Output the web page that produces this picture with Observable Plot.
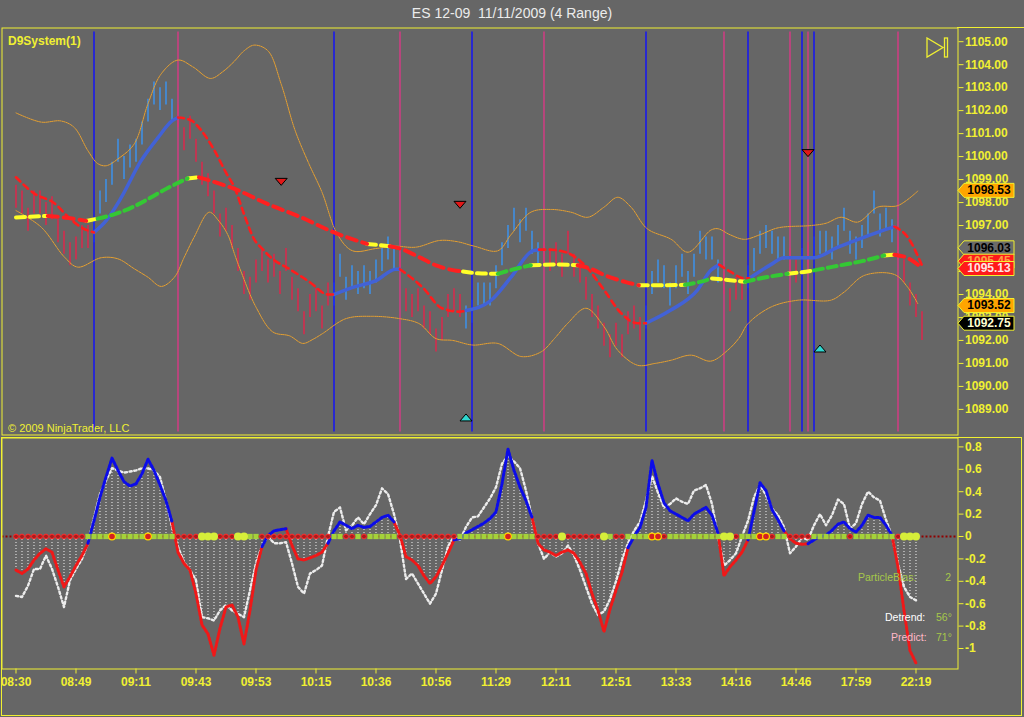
<!DOCTYPE html>
<html><head><meta charset="utf-8">
<script src="https://cdn.jsdelivr.net/npm/d3@7"></script>
<script src="https://cdn.jsdelivr.net/npm/@observablehq/plot@0.6"></script>
<style>
html,body{margin:0;padding:0;background:#666666;width:1024px;height:717px;overflow:hidden;}
#wrap{position:relative;width:1024px;height:717px;font-family:'Liberation Sans',Arial,sans-serif;}
#title{position:absolute;left:0;top:5px;width:1024px;text-align:center;color:#ececec;font-size:14px;white-space:pre;}
#top,#bot{position:absolute;left:0;}
#top{top:0;} #bot{top:436px;}
</style></head>
<body><div id="wrap">
<div id="title">ES 12-09  11/11/2009 (4 Range)</div>
<div id="top"></div><div id="bot"></div>
<div style="position:absolute;left:957px;top:27px;width:67px;height:1px;background:#f0f032"></div>
<div style="position:absolute;left:1px;top:437px;width:1021px;height:279px;border:1px solid #f0f032;box-sizing:border-box"></div>
<svg style="position:absolute;left:926px;top:37px" width="24" height="22"><polygon points="1,1 1,20 17,10.5" fill="none" stroke="#f0f032" stroke-width="1.3"/><rect x="18.5" y="1" width="3" height="19" fill="none" stroke="#f0f032" stroke-width="1.3"/></svg>
</div>
<script>
// ---------- price panel data ----------
const barHighs = [1098.75,1098.5,1097.75,1098.5,1098.5,1098.0,1098.25,1097.25,1096.75,1096.25,
1096.5,1097.0,1097.0,1097.25,1098.5,1099.0,1099.75,1100.75,1100.0,1100.5,
1100.75,1101.5,1102.5,1103.25,1103.0,1103.25,1102.5,1102.25,1101.25,1101.75,
1100.75,1099.75,1099.25,1098.5,1097.5,1097.75,1097.0,1096.0,1095.0,1094.75,
1095.5,1096.0,1095.5,1095.75,1095.0,1096.0,1094.75,1094.25,1093.25,1094.0,
1094.25,1093.5,1094.5,1094.5,1095.75,1094.75,1095.25,1095.0,1095.25,1095.0,
1095.5,1096.0,1096.5,1096.0,1096.0,1094.25,1094.0,1094.25,1093.5,1093.25,
1092.5,1093.0,1094.0,1094.25,1094.0,1093.5,1093.75,1094.5,1094.5,1094.5,
1095.25,1096.25,1097.0,1097.75,1097.25,1097.75,1096.75,1096.25,1096.25,1096.0,
1096.25,1095.75,1096.75,1095.75,1095.5,1094.75,1094.0,1093.5,1092.75,1092.25,
1092.75,1092.25,1093.25,1093.5,1093.0,1093.5,1095.0,1095.5,1095.25,1094.5,
1095.25,1095.75,1095.0,1095.75,1096.75,1096.5,1096.5,1095.5,1095.0,1094.25,
1094.75,1094.75,1095.25,1096.0,1096.75,1097.0,1096.75,1096.5,1096.5,1096.0,
1095.5,1096.0,1096.25,1096.5,1096.75,1096.75,1096.5,1097.0,1097.75,1096.75,
1096.5,1097.0,1097.5,1098.5,1097.5,1097.75,1097.25,1096.5,1095.5,1094.5,
1094.0,1093.25];
const barLows = [1097.75,1097.5,1096.75,1097.5,1097.5,1097.0,1097.25,1096.25,1095.75,1095.25,
1095.5,1096.0,1096.0,1096.25,1097.5,1098.0,1098.75,1099.75,1099.0,1099.5,
1099.75,1100.5,1101.5,1102.25,1102.0,1102.25,1101.5,1101.25,1100.25,1100.75,
1099.75,1098.75,1098.25,1097.5,1096.5,1096.75,1096.0,1095.0,1094.0,1093.75,
1094.5,1095.0,1094.5,1094.75,1094.0,1095.0,1093.75,1093.25,1092.25,1093.0,
1093.25,1092.5,1093.5,1093.5,1094.75,1093.75,1094.25,1094.0,1094.25,1094.0,
1094.5,1095.0,1095.5,1095.0,1095.0,1093.25,1093.0,1093.25,1092.5,1092.25,
1091.5,1092.0,1093.0,1093.25,1093.0,1092.5,1092.75,1093.5,1093.5,1093.5,
1094.25,1095.25,1096.0,1096.75,1096.25,1096.75,1095.75,1095.25,1095.25,1095.0,
1095.25,1094.75,1095.75,1094.75,1094.5,1093.75,1093.0,1092.5,1091.75,1091.25,
1091.75,1091.25,1092.25,1092.5,1092.0,1092.5,1094.0,1094.5,1094.25,1093.5,
1094.25,1094.75,1094.0,1094.75,1095.75,1095.5,1095.5,1094.5,1094.0,1093.25,
1093.75,1093.75,1094.25,1095.0,1095.75,1096.0,1095.75,1095.5,1095.5,1095.0,
1094.5,1095.0,1095.25,1095.5,1095.75,1095.75,1095.5,1096.0,1096.75,1095.75,
1095.5,1096.0,1096.5,1097.5,1096.5,1096.75,1096.25,1095.5,1094.5,1093.5,
1093.0,1092.0];
const barTrend = ("rrrrrrrrrrrrr" + "bbbbbbbbbbbbbb" + "rrrrrrrrrrrrrrrrrrrrrrrrrr" + "bbbbbbbbbbb" +
  "rrrrrrrrrrr" + "bbbbbbbbbbbbb" + "rrrrrrrrrrrrrrrrr" + "bbbbbbbbbbbbb" + "rrrr" + "bbbbbbb" +
  "rr" + "b" + "r" + "bbbbbbbbbbbbbb" + "rrrrr").split("");
const signalUpBars = [13, 53, 76, 105, 122, 131, 133];
const signalDownBars = [27, 64, 88, 118, 129, 132, 147];
const upperBand = [[0,1101.9],[4.2,1101.5],[7.5,1101.55],[9.7,1101.27],[12,1100.25],[13.6,1099.7],[15,1099.6],[17,1099.9],
[19.7,1100.55],[22,1102.3],[24.2,1103.6],[27,1104.2],[29.5,1103.9],[32.4,1103.4],[34.5,1103.7],[36.4,1104.15],[38,1104.6],
[39.7,1104.85],[42,1104.6],[44.2,1103.15],[46.5,1101.15],[48.8,1099.7],[51,1098.45],[53.6,1096.6],[56.1,1095.9],[60,1096.0],
[63,1096.1],[66.7,1096.06],[70.6,1096.35],[73.5,1096.3],[76.4,1096.1],[80.3,1095.9],[82.5,1096.6],[85.8,1097.58],[89.2,1097.7],
[92.5,1097.58],[95.3,1097.36],[98,1097.8],[100.3,1098.23],[102.5,1097.8],[105.2,1096.86],[109.2,1096.4],[112,1095.84],
[115.8,1096.8],[117,1096.86],[119,1096.6],[121.4,1096.4],[124,1096.6],[127,1096.9],[132.5,1097.0],[135,1097.1],[137.5,1097.36],
[140.3,1097.15],[143.6,1097.8],[147,1097.87],[150.3,1098.5]];
const lowerBand = [[0,1097.65],[4.2,1096.93],[8.1,1095.62],[10.3,1095.19],[14.2,1095.6],[17,1095.55],[19.7,1095.12],[22,1094.75],
[24.2,1094.35],[26.4,1094.75],[28,1095.6],[29.7,1096.5],[32.2,1097.58],[33.8,1097.2],[35.3,1096.6],[36.5,1095.7],[37.5,1095.0],
[40,1093.45],[42.8,1092.37],[45.6,1092.2],[47.8,1091.87],[49.5,1092.05],[51.1,1092.3],[55,1092.95],[59.4,1093.05],[63.9,1092.95],
[67.2,1092.73],[70,1092.08],[72.8,1092.0],[76.1,1091.8],[80.3,1091.87],[84.2,1091.3],[87.5,1091.5],[89.8,1092.1],[91.9,1092.73],
[95,1093.4],[98,1092.6],[100.3,1091.57],[103.6,1090.92],[106.5,1091.0],[109.2,1091.14],[112.5,1091.36],[115.8,1091.1],
[118.6,1091.57],[120.5,1092.1],[122,1092.73],[125.8,1093.45],[130.3,1093.75],[135.8,1093.75],[138,1094.1],[141.4,1094.83],
[146.4,1094.87],[148.6,1094.32],[150.3,1093.6]];
// [bar, price, state of the segment that starts here]  d = down (red), u = up (blue)
const fastKnots = [[0,1099.1,"d"],[3,1098.4,"d"],[6.5,1097.95,"d"],[8.6,1097.4,"d"],[11,1096.9,"d"],[13,1096.7,"u"],
[15,1097.2,"u"],[17.5,1098.2,"u"],[20.8,1099.8,"u"],[23.6,1100.8,"u"],[26,1101.55,"u"],[27,1101.7,"d"],[29,1101.6,"d"],
[31,1101.1,"d"],[33,1100.3,"d"],[35,1099.3,"d"],[36.5,1098.6,"d"],[38,1097.5,"d"],[39.7,1096.4,"d"],[41,1096.0,"d"],
[43,1095.5,"d"],[45.3,1095.15,"d"],[48.9,1094.55,"d"],[52,1094.0,"d"],[53,1094.0,"u"],[56,1094.3,"u"],[60,1094.6,"u"],
[63.3,1095.1,"u"],[64,1095.1,"d"],[67.8,1094.3,"d"],[71,1093.4,"d"],[74,1093.25,"d"],[75,1093.3,"u"],[79.2,1093.75,"u"],
[82.5,1094.75,"u"],[86.1,1095.9,"u"],[87.2,1095.95,"d"],[89,1095.95,"d"],[92,1095.8,"d"],[94.7,1095.3,"d"],[98,1094.2,"d"],
[100.8,1093.2,"d"],[103.6,1092.75,"d"],[105,1092.75,"u"],[109,1093.3,"u"],[113.6,1094.2,"u"],[115.8,1095.05,"u"],
[117.2,1095.3,"d"],[119.2,1094.97,"d"],[121.4,1094.7,"d"],[122.2,1094.7,"u"],[125.8,1095.3,"u"],[128,1095.6,"u"],
[130.3,1095.6,"u"],[133,1095.6,"u"],[136.9,1096.05,"u"],[141.4,1096.5,"u"],[145.8,1096.9,"u"],[146.4,1096.95,"d"],
[148.6,1096.5,"d"],[151.1,1095.2,"d"]];
// y = flat, g = rising, r = falling
const slowKnots = [[0,1097.35,"y"],[5.3,1097.42,"r"],[8,1097.35,"r"],[11.7,1097.2,"y"],[13.6,1097.3,"g"],[17.4,1097.58,"g"],
[20.2,1097.9,"g"],[23,1098.3,"g"],[25.8,1098.7,"g"],[28.6,1099.05,"y"],[30.5,1099.1,"r"],[33.6,1098.85,"r"],[36.4,1098.6,"r"],
[41.9,1097.94,"r"],[47.5,1097.36,"r"],[53,1096.7,"r"],[58.5,1096.2,"y"],[62.3,1096.1,"r"],[64,1096.0,"r"],[67,1095.65,"r"],
[70,1095.27,"r"],[73,1095.05,"r"],[74.5,1095.0,"y"],[77,1094.92,"y"],[80.3,1094.9,"g"],[83,1095.1,"g"],[85.8,1095.27,"y"],
[90,1095.3,"y"],[93.6,1095.27,"r"],[96,1095.1,"r"],[98,1094.85,"r"],[101.5,1094.55,"r"],[103.8,1094.4,"y"],[107.5,1094.4,"y"],
[111.5,1094.42,"g"],[114,1094.55,"g"],[116,1094.7,"y"],[119,1094.62,"y"],[121.5,1094.55,"g"],[125,1094.75,"g"],
[128.6,1094.9,"y"],[131,1094.97,"y"],[133,1095.05,"g"],[137,1095.25,"g"],[141,1095.45,"g"],[144.7,1095.7,"y"],
[146.4,1095.73,"r"],[148.5,1095.6,"r"],[151,1095.15,"r"]];
const sellMarks = [[44.2,1098.9],[74,1097.9],[132,1100.15]];
const buyMarks = [[75,1088.65],[134,1091.65]];
const priceTags = [1098.53, 1096.03, 1095.45, 1095.13, 1093.52, 1092.75];
const priceTicks = [1089,1090,1091,1092,1093,1094,1095,1096,1097,1098,1099,1100,1101,1102,1103,1104,1105];

// ---------- oscillator panel data ----------
const oscValues = [-0.30,-0.33,-0.29,-0.21,-0.15,-0.11,-0.14,-0.30,-0.45,-0.36,
-0.26,-0.17,-0.06,0.14,0.35,0.53,0.70,0.59,0.49,0.45,
0.47,0.56,0.69,0.59,0.46,0.32,0.13,-0.14,-0.24,-0.30,
-0.51,-0.79,-0.87,-1.06,-0.82,-0.63,-0.61,-0.72,-0.96,-0.66,
-0.30,-0.09,0.01,0.05,0.06,0.07,-0.08,-0.20,-0.21,-0.19,
-0.17,-0.14,-0.06,0.05,0.13,0.10,0.07,0.10,0.08,0.09,
0.13,0.17,0.19,0.13,0.01,-0.18,-0.21,-0.26,-0.35,-0.42,
-0.36,-0.26,-0.15,-0.03,-0.02,0.03,0.06,0.09,0.12,0.16,
0.22,0.47,0.78,0.59,0.44,0.32,0.17,-0.06,-0.12,-0.14,
-0.17,-0.14,-0.12,-0.15,-0.23,-0.33,-0.51,-0.66,-0.85,-0.65,
-0.48,-0.32,-0.10,0.00,0.08,0.26,0.68,0.47,0.30,0.23,
0.20,0.17,0.14,0.20,0.23,0.26,0.19,0.03,-0.35,-0.27,
-0.21,-0.14,-0.03,0.22,0.48,0.41,0.24,0.15,0.05,-0.02,
-0.06,-0.07,-0.065,-0.03,0.00,0.01,0.055,0.11,0.13,0.07,
0.04,0.10,0.19,0.17,0.17,0.10,0.01,-0.27,-0.66,-1.02,
-1.13];
const oscTrend = ("rrrrrrrrrrrrr" + "bbbbbbbbbbbbbb" + "rrrrrrrrrrrrrrr" + "bbbb" + "rrrrrrr" + "bbbbbbbbbbb" +
  "rrrrrrrrrr" + "bbbbbbbbbbbbb" + "rrrrrrrrrrrrrrrr" + "bbbbbbbbbbbbbbb" + "rrrrr" + "bbbbbb" + "rrrr" +
  "bbbbbbbbbbbbbb" + "rrrr").split("");
const detrendValues = [-0.53,-0.54,-0.44,-0.29,-0.29,-0.17,-0.29,-0.45,-0.63,-0.39,
-0.29,-0.20,-0.06,0.17,0.38,0.50,0.61,0.59,0.57,0.58,
0.59,0.61,0.61,0.59,0.53,0.32,0.085,-0.09,-0.23,-0.30,
-0.39,-0.72,-0.73,-0.75,-0.66,-0.61,-0.66,-0.69,-0.72,-0.48,
-0.24,-0.08,0.0,-0.06,-0.06,-0.05,-0.24,-0.45,-0.51,-0.33,
-0.30,-0.26,0.0,0.22,0.26,0.055,0.10,0.17,0.11,0.20,
0.28,0.43,0.38,0.20,-0.03,-0.38,-0.33,-0.42,-0.51,-0.60,
-0.51,-0.30,-0.09,0.0,-0.03,0.085,0.17,0.18,0.26,0.34,
0.44,0.65,0.72,0.67,0.61,0.41,0.17,-0.06,-0.20,-0.14,
-0.18,-0.15,-0.08,-0.17,-0.30,-0.45,-0.60,-0.70,-0.67,-0.56,
-0.40,-0.21,-0.06,0.05,0.13,0.32,0.54,0.39,0.26,0.29,
0.34,0.31,0.29,0.41,0.43,0.46,0.29,0.0,-0.26,-0.21,
-0.15,0.0,0.14,0.35,0.46,0.37,0.25,0.19,0.085,-0.15,
-0.09,-0.01,-0.03,0.10,0.20,0.10,0.19,0.33,0.29,0.07,
0.12,0.29,0.40,0.35,0.32,0.15,0.0,-0.24,-0.45,-0.54,
-0.57];
// r = red ring, g = green square, y = yellow dot, o = ringed signal dot
const zeroMarks = ("rrrrrrrrrrrr" + "gggg" + "o" + "ggggg" + "o" + "gggg" + "rrrr" + "yyy" + "rrr" + "yy" + "gg" +
  "rrrrrrrrrrrr" + "gg" + "rr" + "g" + "r" + "ggggg" + "rrrrrrrrrr" + "gggggggg" + "o" + "gggg" + "rrrr" + "y" +
  "rrrrrr" + "y" + "g" + "rr" + "gggg" + "oo" + "r" + "ggggggggg" + "yy" + "r" + "ggg" + "oo" + "r" + "gg" + "rrrr" +
  "gggggg" + "r" + "ggggggg" + "r" + "yyy").split("");
const oscTicks = [0.8, 0.6, 0.4, 0.2, 0, -0.2, -0.4, -0.6, -0.8, -1];
const timeTickBars = [0,10,20,30,40,50,60,70,80,90,100,110,120,130,140,150];
const timeTickLabels = ["08:30","08:49","09:11","09:43","09:53","10:15","10:36","10:56","11:29","12:11","12:51","13:33","14:16","14:46","17:59","22:19"];
const particleBias = "2";
const detrendAngle = "56°";
const predictAngle = "71°";

// ---------- styles ----------
const YEL = "#f0f032";
const X_DOMAIN = [-2.333, 157];
const BAR_RED = "#dc284c", BAR_BLUE = "#3c92ec";
const FONT = "'Liberation Sans', Arial, sans-serif";
const svgStyle = {background: "none", color: YEL, fontFamily: FONT, fontSize: "12px", fontWeight: "bold", overflow: "visible"};
const tagStyles = [
  {fill: "#ffa500", text: "#000000"},
  {fill: "#6a6a6a", text: "#000000"},
  {fill: "#ff1a1a", text: "#ffa040"},
  {fill: "#ff1a1a", text: "#ffe4e4"},
  {fill: "#ffa500", text: "#000000"},
  {fill: "#000000", text: "#ffffd0"}
];

// ---------- helpers ----------
function knotRuns(knots) {
  const out = []; let run = 0;
  knots.forEach((k, j) => {
    if (j > 0 && k[2] !== knots[j - 1][2]) { out.push({x: k[0], y: k[1], key: knots[j - 1][2], run}); run++; }
    out.push({x: k[0], y: k[1], key: k[2], run});
  });
  return out;
}
function seriesRuns(vals, keys) {
  const out = []; let run = 0;
  for (let i = 0; i < vals.length; i++) {
    if (i > 0 && keys[i] !== keys[i - 1]) { run++; out.push({x: i - 1, y: vals[i - 1], key: keys[i], run}); }
    out.push({x: i, y: vals[i], key: keys[i], run});
  }
  return out;
}
const tagSymbol = {draw(ctx) { ctx.moveTo(0, 0); ctx.lineTo(6, -7); ctx.lineTo(56, -7); ctx.lineTo(56, 7); ctx.lineTo(6, 7); ctx.closePath(); }};
const downTri = {draw(ctx) { ctx.moveTo(-6, -3.5); ctx.lineTo(6, -3.5); ctx.lineTo(0, 3.5); ctx.closePath(); }};
const upTri = {draw(ctx) { ctx.moveTo(-6, 3.5); ctx.lineTo(6, 3.5); ctx.lineTo(0, -3.5); ctx.closePath(); }};

// ---------- price panel ----------
const bars = barHighs.map((h, i) => ({i, high: h, low: barLows[i], trend: barTrend[i]}));
const fastPts = knotRuns(fastKnots);
const slowPts = knotRuns(slowKnots);
const slowColors = {y: "#ffff28", g: "#34c834", r: "#ff2020"};
const slowDash = {y: "9,5", g: "9,5", r: "10,6"};

const tagMarks = priceTags.flatMap((v, k) => [
  Plot.dot([v], {x: () => X_DOMAIN[1], y: d => d, symbol: tagSymbol, r: 4, fill: tagStyles[k].fill, stroke: YEL, strokeWidth: 1}),
  Plot.text([v], {x: () => X_DOMAIN[1], y: d => d, dx: 31, text: d => d.toFixed(2), fill: tagStyles[k].text, fontSize: 12, fontWeight: "bold", textAnchor: "middle"})
]);

const topPlot = Plot.plot({
  width: 1024, height: 436,
  marginTop: 27.5, marginBottom: 1.5, marginLeft: 1.5, marginRight: 66.5,
  style: svgStyle,
  x: {domain: X_DOMAIN, axis: null},
  y: {domain: [1087.886, 1105.595], axis: "right", ticks: priceTicks, tickFormat: d => d.toFixed(2), tickSize: 5, tickPadding: 2, label: null},
  marks: [
    Plot.ruleX(bars.filter(d => d.trend === "r"), {x: "i", y1: "low", y2: "high", stroke: BAR_RED, strokeWidth: 1.5}),
    Plot.ruleX(bars.filter(d => d.trend === "b"), {x: "i", y1: "low", y2: "high", stroke: BAR_BLUE, strokeWidth: 1.5}),
    Plot.ruleX(signalDownBars, {x: d => d, stroke: "#d23c84", strokeWidth: 1.5, insetTop: 4, insetBottom: 3}),
    Plot.ruleX(signalUpBars, {x: d => d, stroke: "#1414f4", strokeWidth: 1.5, insetTop: 4, insetBottom: 3}),
    Plot.line(upperBand, {x: d => d[0], y: d => d[1], stroke: "#e6a030", strokeWidth: 1, strokeDasharray: "3,1", curve: "catmull-rom"}),
    Plot.line(lowerBand, {x: d => d[0], y: d => d[1], stroke: "#e6a030", strokeWidth: 1, strokeDasharray: "3,1", curve: "catmull-rom"}),
    Plot.line(fastPts.filter(d => d.key === "u"), {x: "x", y: "y", z: "run", stroke: "#4262d6", strokeWidth: 3.5, curve: "monotone-x"}),
    Plot.line(fastPts.filter(d => d.key === "d"), {x: "x", y: "y", z: "run", stroke: "#ff1c1c", strokeWidth: 2.6, strokeDasharray: "6,4.5", curve: "monotone-x"}),
    ...["y", "g", "r"].map(k => Plot.line(slowPts.filter(d => d.key === k), {x: "x", y: "y", z: "run", stroke: slowColors[k], strokeWidth: 4, strokeDasharray: slowDash[k], curve: "monotone-x"})),
    Plot.dot(sellMarks, {x: d => d[0], y: d => d[1], symbol: downTri, r: 4, fill: "#e01818", stroke: "#000", strokeWidth: 1}),
    Plot.dot(buyMarks, {x: d => d[0], y: d => d[1], symbol: upTri, r: 4, fill: "#30d8d0", stroke: "#000", strokeWidth: 1}),
    Plot.text(["D9System(1)"], {frameAnchor: "top-left", dx: 6, dy: 13, textAnchor: "start", lineAnchor: "middle", fill: YEL, fontSize: 12, fontWeight: "bold"}),
    Plot.text(["© 2009 NinjaTrader, LLC"], {frameAnchor: "top-left", dx: 6, dy: 400, textAnchor: "start", lineAnchor: "middle", fill: YEL, fontSize: 11, fontWeight: "normal"}),
    Plot.frame({stroke: YEL}),
    ...tagMarks
  ]
});
document.getElementById("top").append(topPlot);

// ---------- oscillator panel ----------
const oscPts = seriesRuns(oscValues, oscTrend);
const hist = [];
oscValues.forEach((o, i) => {
  const w = detrendValues[i];
  if (o * w > 0) hist.push({x: i, y: Math.abs(o) < Math.abs(w) ? o : w});
});
const marks0 = zeroMarks.map((k, i) => ({x: i, key: k}));

const botPlot = Plot.plot({
  width: 1024, height: 280,
  marginTop: 1.5, marginBottom: 47.5, marginLeft: 1.5, marginRight: 66.5,
  style: svgStyle,
  x: {domain: X_DOMAIN, ticks: timeTickBars, tickFormat: d => timeTickLabels[timeTickBars.indexOf(d)], tickSize: 5, tickPadding: 3, label: null},
  y: {domain: [-1.183, 0.8795], axis: "right", ticks: oscTicks, tickFormat: d => String(d), tickSize: 5, tickPadding: 2, label: null},
  marks: [
    Plot.ruleY([0], {stroke: "#900000", strokeWidth: 2, strokeDasharray: "2,2"}),
    Plot.ruleX(hist, {x: "x", y1: 0, y2: "y", stroke: "#f4f4f4", strokeWidth: 1, strokeDasharray: "1,2"}),
    Plot.line(detrendValues, {x: (d, i) => i, y: d => d, stroke: "#ececec", strokeWidth: 2.4, strokeDasharray: "2.2,2.6"}),
    Plot.line(oscPts.filter(d => d.key === "r"), {x: "x", y: "y", z: "run", stroke: "#f01818", strokeWidth: 3, strokeDasharray: "2.6,1.8"}),
    Plot.line(oscPts.filter(d => d.key === "b"), {x: "x", y: "y", z: "run", stroke: "#0c0ce8", strokeWidth: 3, strokeDasharray: "2.6,1.8"}),
    Plot.dot(marks0.filter(d => d.key === "g"), {x: "x", y: () => 0, symbol: "square", r: 3, fill: "#a4d23a", stroke: "none"}),
    Plot.dot(marks0.filter(d => d.key === "r"), {x: "x", y: () => 0, r: 2.4, fill: "#a81c1c", stroke: "#ff3030", strokeWidth: 1}),
    Plot.dot(marks0.filter(d => d.key === "y"), {x: "x", y: () => 0, r: 4, fill: "#d6ee3a", stroke: "none"}),
    Plot.dot(marks0.filter(d => d.key === "o"), {x: "x", y: () => 0, r: 3.4, fill: "#d42020", stroke: "#ffd400", strokeWidth: 1.2}),
    Plot.text(["ParticleBias:"], {frameAnchor: "top-left", dx: 856, dy: 140, textAnchor: "start", lineAnchor: "middle", fill: "#a6c84a", fontSize: 10.5, fontWeight: "normal"}),
    Plot.text([particleBias], {frameAnchor: "top-left", dx: 949, dy: 140, textAnchor: "end", lineAnchor: "middle", fill: "#a6c84a", fontSize: 10.5, fontWeight: "normal"}),
    Plot.text(["Detrend:"], {frameAnchor: "top-left", dx: 883, dy: 180, textAnchor: "start", lineAnchor: "middle", fill: "#ffffff", fontSize: 10.5, fontWeight: "normal"}),
    Plot.text([detrendAngle], {frameAnchor: "top-left", dx: 934, dy: 180, textAnchor: "start", lineAnchor: "middle", fill: "#a6c84a", fontSize: 10.5, fontWeight: "normal"}),
    Plot.text(["Predict:"], {frameAnchor: "top-left", dx: 889, dy: 200, textAnchor: "start", lineAnchor: "middle", fill: "#ffb8c8", fontSize: 10.5, fontWeight: "normal"}),
    Plot.text([predictAngle], {frameAnchor: "top-left", dx: 934, dy: 200, textAnchor: "start", lineAnchor: "middle", fill: "#a6c84a", fontSize: 10.5, fontWeight: "normal"}),
    Plot.frame({stroke: YEL})
  ]
});
document.getElementById("bot").append(botPlot);
</script>
</body></html>
